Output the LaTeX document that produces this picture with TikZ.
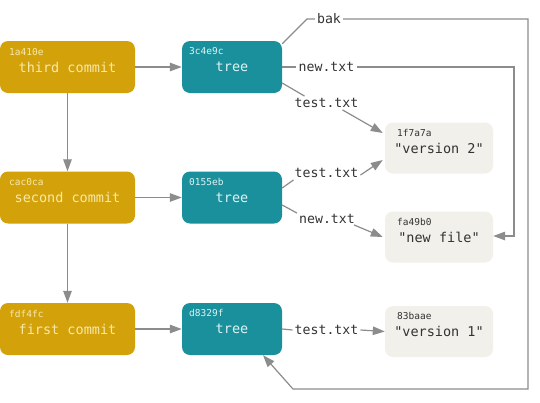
\documentclass[tikz,border=0pt]{standalone}
\usepackage{fontspec}
\setmonofont{DejaVu Sans Mono}
\setmainfont{DejaVu Sans Mono}
\usetikzlibrary{arrows.meta,calc}
\definecolor{gold}{HTML}{D3A10A}
\definecolor{teal}{HTML}{19909B}
\definecolor{blobfill}{HTML}{F1F0EB}
\definecolor{committext}{HTML}{F8E9AA}
\definecolor{treetext}{HTML}{DDF3F3}
\definecolor{blobtext}{HTML}{333333}
\definecolor{labeltext}{HTML}{333333}
\definecolor{linegray}{HTML}{8C8C8C}
\begin{document}
\begin{tikzpicture}[x=1pt,y=-1pt,
  box/.style={rounded corners=8pt, minimum height=52pt, inner sep=0pt, font=\ttfamily\fontsize{13.5}{16}\selectfont},
  commit/.style={box, fill=gold, text=committext, minimum width=135pt},
  tree/.style={box, fill=teal, text=treetext, minimum width=100pt},
  blob/.style={box, fill=blobfill, text=blobtext, minimum width=108pt, minimum height=51pt},
  hash/.style={anchor=west, inner sep=0pt, font=\ttfamily\fontsize{9.5}{11}\selectfont},
  lbl/.style={inner sep=2pt, font=\ttfamily\fontsize{13.2}{16}\selectfont, text=labeltext},
  ln/.style={draw=linegray, line width=1.2pt},
  arr/.style={ln, -{Triangle[length=12pt,width=8.5pt]}},
]
\useasboundingbox[fill=white] (0,0) rectangle (540,402);

% commits
\node[commit] (c3) at (67.5,67) {third commit};
\node[commit] (c2) at (67.5,197.5) {second commit};
\node[commit] (c1) at (67.5,329) {first commit};
\node[hash, text=committext] (hc3) at (9,52) {1a410e};
\node[hash, text=committext] (hc2) at (9,182) {cac0ca};
\node[hash, text=committext] (hc1) at (9,314) {fdf4fc};

% trees
\node[tree] (t3) at (232,67) {tree};
\node[tree] (t2) at (232,197.5) {tree};
\node[tree] (t1) at (232,329) {tree};
\node[hash, text=treetext] (ht3) at (189,51) {3c4e9c};
\node[hash, text=treetext] (ht2) at (189,182) {0155eb};
\node[hash, text=treetext] (ht1) at (189,313) {d8329f};

% blobs
\node[blob] (b1) at (439,148) {\raisebox{-3.5pt}{"version 2"}};
\node[blob] (b2) at (439,237) {\raisebox{-3.5pt}{"new file"}};
\node[blob] (b3) at (439,331.5) {\raisebox{-3.5pt}{"version 1"}};
\node[hash, text=blobtext] (hb1) at (397,133) {1f7a7a};
\node[hash, text=blobtext] (hb2) at (397,222) {fa49b0};
\node[hash, text=blobtext] (hb3) at (397,316) {83baae};

% labels
\node[lbl] (bak) at (329,19) {bak};
\node[lbl] (nl3) at (326.5,67) {new.txt};
\node[lbl] (tl3) at (326.5,103) {test.txt};
\node[lbl] (tl2) at (326.5,173) {test.txt};
\node[lbl] (nl2) at (327,219) {new.txt};
\node[lbl] (tl1) at (326.5,330) {test.txt};

% commit links
\draw[arr] (c3) -- (t3);
\draw[arr] (c2) -- (t2);
\draw[arr] (c1) -- (t1);
\draw[arr] (c3) -- (c2);
\draw[arr] (c2) -- (c1);

% bak
\coordinate (bk1) at (307,19);
\coordinate (bk2) at (528,19);
\coordinate (bk3) at (528,389);
\coordinate (bk4) at (293,389);
\draw[ln] ($(t3.north east)+(0,3)$) -- (bk1) -- (bak.west);
\draw[arr] (bak.east) -- (bk2) -- (bk3) -- (bk4) -- ($(t1.south)+(31,0)$);

% new.txt from t3
\coordinate (nw1) at (514,67);
\coordinate (nw2) at (514,236);
\draw[ln] (t3.east) -- (nl3.west);
\draw[arr] (nl3.east) -- (nw1) -- (nw2) -- ($(b2.east)+(0,-1)$);

% test.txt from t3
\draw[ln] ($(t3.east)+(0,16)$) -- ($(tl3.north west)+(12,0)$);
\draw[arr] ($(tl3.south)+(16,0)$) -- ($(b1.west)+(-2,-15)$);

% test.txt from t2
\draw[ln] ($(t2.east)+(0,-9.5)$) -- ($(tl2.south west)+(1,0)$);
\draw[arr] ($(tl2.east)+(0,2)$) -- ($(b1.west)+(-2,12)$);

% new.txt from t2
\draw[ln] ($(t2.east)+(0,7.5)$) -- ($(nl2.north west)+(0,1)$);
\draw[arr] ($(nl2.south east)+(-3,-1)$) -- ($(b2.west)+(-2,0)$);

% test.txt from t1
\draw[ln] (t1.east) -- (tl1.west);
\draw[arr] (tl1.east) -- (b3.west);
\end{tikzpicture}
\end{document}
